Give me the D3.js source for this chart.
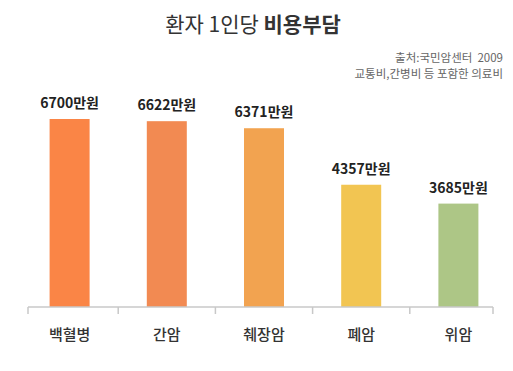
<!DOCTYPE html>
<html>
<head>
<meta charset="utf-8">
<script src="https://cdn.jsdelivr.net/npm/d3@7"></script>
<style>
  body { margin: 0; background: #fff; }
  text { font-family: "Noto Sans CJK KR", "Noto Sans", sans-serif; }
</style>
</head>
<body>
<div class="container"></div>
<script>
const categories = ["백혈병", "간암", "췌장암", "폐암", "위암"]
const values = [6700, 6622, 6371, 4357, 3685]
const barColors = ["#fa8546", "#f28a52", "#f2a350", "#f2c552", "#adc686"]
const sourceLines = ["출처:국민암센터  2009", "교통비,간병비 등 포함한 의료비"]

const w = 513
const h = 371
const baseY = 307

const svg = d3.select(".container")
  .append("svg")
  .attr("width", w)
  .attr("height", h)

// Scales
const xScale = d3.scaleBand().domain(categories).range([21, 507]).paddingInner(0).paddingOuter(0)
const yScale = d3.scaleLinear().domain([0, 6700]).range([baseY, 119])

// title
const title = svg.append("text")
  .attr("x", 253)
  .attr("y", 32)
  .attr("text-anchor", "middle")
  .style("font-size", "21px")
  .style("fill", "#333")
title.append("tspan").text("환자 1인당 ")
title.append("tspan").style("font-weight", "bold").text("비용부담")

svg.selectAll(".src")
  .data(sourceLines)
  .enter()
  .append("text")
  .attr("class", "src")
  .attr("x", 503)
  .attr("y", (d, i) => 62 + i * 16)
  .attr("text-anchor", "end")
  .style("font-size", "11.5px")
  .style("white-space", "pre")
  .style("fill", "#666")
  .text(d => d)

const bw = 40

svg.selectAll("rect")
  .data(values)
  .enter()
  .append("rect")
  .attr("x", (d, i) => xScale(categories[i]) + xScale.bandwidth() / 2 - bw / 2)
  .attr("y", d => yScale(d))
  .attr("width", bw)
  .attr("height", d => baseY - yScale(d))
  .attr("fill", (d, i) => barColors[i])

svg.selectAll(".val")
  .data(values)
  .enter()
  .append("text")
  .attr("class", "val")
  .attr("x", (d, i) => xScale(categories[i]) + xScale.bandwidth() / 2)
  .attr("y", d => yScale(d) - 11)
  .attr("text-anchor", "middle")
  .style("font-size", "14px")
  .style("font-weight", "bold")
  .style("fill", "#222")
  .text(d => d + "만원")

// x axis
const axis = svg.append("g").attr("stroke", "#c8c8c8").attr("stroke-width", 1.5)
axis.append("line")
  .attr("x1", 28).attr("x2", 493)
  .attr("y1", baseY).attr("y2", baseY)
const tickXs = [28].concat(categories.slice(1).map(c => xScale(c))).concat([493])
axis.selectAll(".tick")
  .data(tickXs)
  .enter()
  .append("line")
  .attr("x1", d => d).attr("x2", d => d)
  .attr("y1", baseY).attr("y2", baseY + 7)

svg.selectAll(".cat")
  .data(categories)
  .enter()
  .append("text")
  .attr("class", "cat")
  .attr("x", d => xScale(d) + xScale.bandwidth() / 2)
  .attr("y", 340)
  .attr("text-anchor", "middle")
  .style("font-size", "15px")
  .style("font-weight", "500")
  .style("fill", "#333")
  .text(d => d)
</script>
</body>
</html>
